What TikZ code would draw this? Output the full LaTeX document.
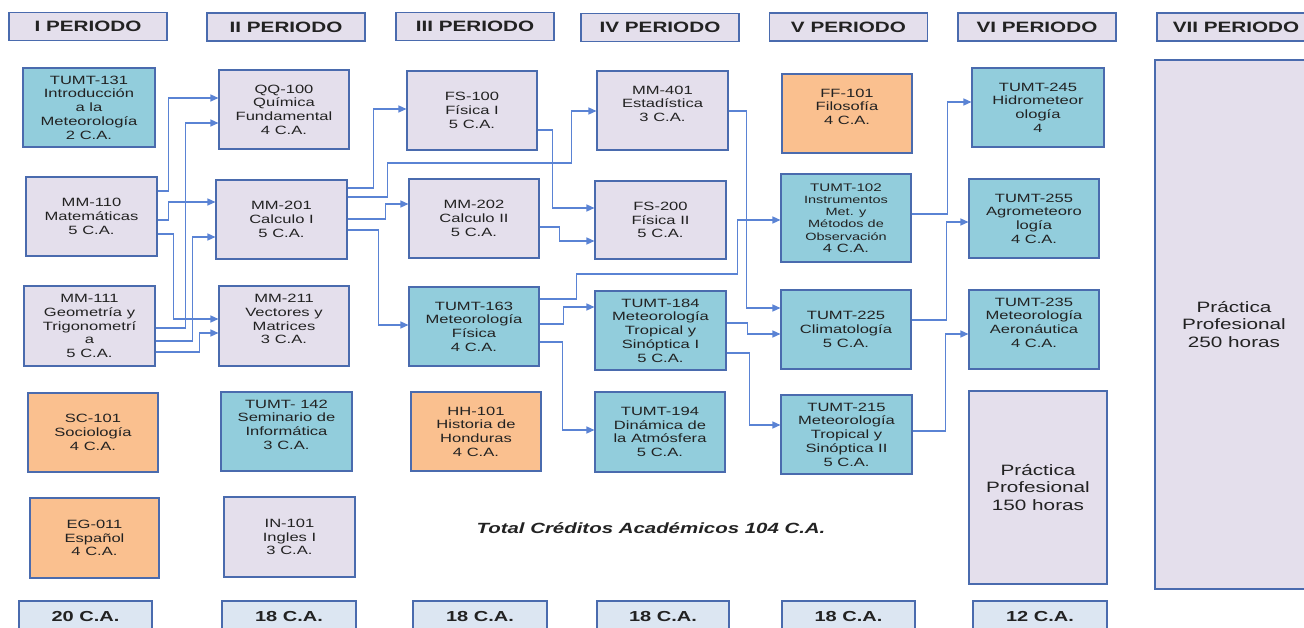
\documentclass[tikz,border=0pt]{standalone}
\usepackage{fontspec}
\setmainfont{Liberation Sans}[FakeStretch=1.38]
\usetikzlibrary{arrows.meta}
\definecolor{lav}{HTML}{E4DFEC}
\definecolor{cyanbox}{HTML}{92CDDC}
\definecolor{orangebox}{HTML}{FAC08F}
\definecolor{cabox}{HTML}{DCE6F2}
\definecolor{bcol}{HTML}{4A6BAE}
\definecolor{lcol}{HTML}{5A83D4}
\definecolor{tcol}{HTML}{222222}
\tikzset{
  sz/.style 2 args={minimum width=#1pt,minimum height=#2pt},
  course/.style={draw=bcol,line width=1.1pt,align=center,inner sep=0pt,text=tcol,font=\fontsize{12}{13.7}\selectfont},
  lavbox/.style={course,fill=lav},
  cybox/.style={course,fill=cyanbox},
  orbox/.style={course,fill=orangebox},
  head/.style={course,fill=lav,font=\bfseries\fontsize{15}{17}\selectfont,sz={158}{28}},
  catotal/.style={course,fill=cabox,font=\bfseries\fontsize{14.5}{17}\selectfont},
  bigtxt/.style={font=\fontsize{15}{17.5}\selectfont},
  conn/.style={draw=lcol,line width=1.3pt,-{Triangle[length=8pt,width=7pt]}},
}
\begin{document}
\begin{tikzpicture}[x=1pt,y=-1pt]
\useasboundingbox (0,0) rectangle (1304,628);
\clip (0,0) rectangle (1304,628);
% headers
\node[head] (h1) at (88,26.5) {I PERIODO};
\node[head] (h2) at (286,27) {II PERIODO};
\node[head] (h3) at (475,26.5) {III PERIODO};
\node[head] (h4) at (660,27.5) {IV PERIODO};
\node[head] (h5) at (848.5,27) {V PERIODO};
\node[head] (h6) at (1037,27) {VI PERIODO};
\node[head] (h7) at (1236,27) {VII PERIODO};
% column I
\node[cybox,sz={132}{79}] (t131) at (89,107.5) {TUMT-131\\Introducción\\a la\\Meteorología\\2 C.A.};
\node[lavbox,sz={131}{79}] (mm110) at (91.5,216.5) {MM-110\\Matemáticas\\5 C.A.};
\node[lavbox,sz={131}{80}] (mm111) at (89.5,326) {MM-111\\Geometría y\\Trigonometrí\\a\\5 C.A.};
\node[orbox,sz={130}{79}] (sc101) at (93,432.5) {SC-101\\Sociología\\4 C.A.};
\node[orbox,sz={129}{80}] (eg011) at (94.5,538) {EG-011\\Español\\4 C.A.};
% column II
\node[lavbox,sz={130}{79}] (qq100) at (284,109.5) {QQ-100\\Química\\Fundamental\\4 C.A.};
\node[lavbox,sz={131}{79}] (mm201) at (281.5,219.5) {MM-201\\Calculo I\\5 C.A.};
\node[lavbox,sz={130}{80}] (mm211) at (284,326) {MM-211\\Vectores y\\Matrices\\3 C.A.\\\mbox{}};
\node[cybox,sz={131}{79}] (t142) at (286.5,431.5) {TUMT- 142\\Seminario de\\Informática\\3 C.A.\\\mbox{}};
\node[lavbox,sz={131}{80}] (in101) at (289.5,537) {IN-101\\Ingles I\\3 C.A.};
% column III
\node[lavbox,sz={130}{79}] (fs100) at (472,110.5) {FS-100\\Física I\\5 C.A.};
\node[lavbox,sz={130}{79}] (mm202) at (474,218.5) {MM-202\\Calculo II\\5 C.A.};
\node[cybox,sz={130}{79}] (t163) at (474,326.5) {TUMT-163\\Meteorología\\Física\\4 C.A.};
\node[orbox,sz={130}{79}] (hh101) at (476,431.5) {HH-101\\Historia de\\Honduras\\4 C.A.};
% column IV
\node[lavbox,sz={131}{79}] (mm401) at (662.5,110.5) {MM-401\\Estadística\\3 C.A.\\\mbox{}};
\node[lavbox,sz={131}{78}] (fs200) at (660.5,220) {FS-200\\Física II\\5 C.A.};
\node[cybox,sz={131}{79}] (t184) at (660.5,330.5) {TUMT-184\\Meteorología\\Tropical y\\Sinóptica I\\5 C.A.};
\node[cybox,sz={130}{80}] (t194) at (660,432) {TUMT-194\\Dinámica de\\la Atmósfera\\5 C.A.};
% column V
\node[orbox,sz={130}{79}] (ff101) at (847,113.5) {FF-101\\Filosofía\\4 C.A.\\\mbox{}};
\node[cybox,sz={130}{88},font=\fontsize{10.5}{12.3}\selectfont] (t102) at (846,218) {{\fontsize{11}{12.3}\selectfont TUMT-102}\\Instrumentos\\Met. y\\Métodos de\\Observación\\{\fontsize{12}{12.3}\selectfont 4 C.A.}};
\node[cybox,sz={130}{79}] (t225) at (846,329.5) {TUMT-225\\Climatología\\5 C.A.};
\node[cybox,sz={131}{79}] (t215) at (846.5,434.5) {TUMT-215\\Meteorología\\Tropical y\\Sinóptica II\\5 C.A.};
% column VI
\node[cybox,sz={132}{79}] (t245) at (1038,107.5) {TUMT-245\\Hidrometeor\\ología\\4};
\node[cybox,sz={130}{79}] (t255) at (1034,218.5) {TUMT-255\\Agrometeoro\\logía\\4 C.A.};
\node[cybox,sz={130}{79}] (t235) at (1034,329.5) {TUMT-235\\Meteorología\\Aeronáutica\\4 C.A.\\\mbox{}};
\node[lavbox,bigtxt,sz={138}{193}] (pp150) at (1038,487.5) {Práctica\\Profesional\\150 horas};
% column VII
\node[lavbox,bigtxt,sz={158}{529}] (pp250) at (1234,324.5) {Práctica\\Profesional\\250 horas};
% totals
\node[catotal,sz={133}{32}] (ca1) at (85.5,617) {20 C.A.};
\node[catotal,sz={134}{32}] (ca2) at (289,617) {18 C.A.};
\node[catotal,sz={134}{32}] (ca3) at (480,617) {18 C.A.};
\node[catotal,sz={132}{32}] (ca4) at (663,617) {18 C.A.};
\node[catotal,sz={133}{32}] (ca5) at (848.5,617) {18 C.A.};
\node[catotal,sz={134}{32}] (ca6) at (1040,617) {12 C.A.};
\node[text=tcol,font=\bfseries\itshape\fontsize{14.8}{17}\selectfont] (total) at (651,528) {Total Créditos Académicos 104 C.A.};
% connectors column I -> II
\draw[conn] ([yshift=25.5pt]mm110.east) -- ++(11,0) |- ([yshift=11.5pt]qq100.west);
\draw[conn] ([yshift=-3.5pt]mm110.east) -- ++(11,0) |- ([yshift=17.5pt]mm201.west);
\draw[conn] ([yshift=-17.5pt]mm110.east) -- ++(16,0) |- ([yshift=7pt]mm211.west);
\draw[conn] ([yshift=-2pt]mm111.east) -- ++(30,0) |- ([yshift=-13.5pt]qq100.west);
\draw[conn] ([yshift=-15pt]mm111.east) -- ++(37,0) |- ([yshift=-17.5pt]mm201.west);
\draw[conn] ([yshift=-26pt]mm111.east) -- ++(44,0) |- ([yshift=-7pt]mm211.west);
% column II -> III/IV
\draw[conn] ([yshift=31.5pt]mm201.east) -- ++(26,0) |- ([yshift=1.5pt]fs100.west);
\draw[conn] ([yshift=22.5pt]mm201.east) -- ++(40,0) -- ++(0,-34) -- ++(184,0) |- ([yshift=-0.5pt]mm401.west);
\draw[conn] ([yshift=0.5pt]mm201.east) -- ++(38,0) |- ([yshift=14.5pt]mm202.west);
\draw[conn] ([yshift=-10.5pt]mm201.east) -- ++(31,0) |- ([yshift=1.5pt]t163.west);
% column III -> IV/V
\draw[conn] ([yshift=-19.5pt]fs100.east) -- ++(15,0) |- ([yshift=12pt]fs200.west);
\draw[conn] ([yshift=-8.5pt]mm202.east) -- ++(20,0) |- ([yshift=-21pt]fs200.west);
\draw[conn] ([yshift=27.5pt]t163.east) -- ++(37,0) -- ++(0,-25) -- ++(161,0) |- ([yshift=-2pt]t102.west);
\draw[conn] ([yshift=2.5pt]t163.east) -- ++(24,0) |- ([yshift=23.5pt]t184.west);
\draw[conn] ([yshift=-15.5pt]t163.east) -- ++(23,0) |- ([yshift=2pt]t194.west);
% column IV -> V
\draw[conn] ([yshift=-0.5pt]mm401.east) -- ++(18,0) |- ([yshift=21.5pt]t225.west);
\draw[conn] ([yshift=7.5pt]t184.east) -- ++(21,0) |- ([yshift=-4.5pt]t225.west);
\draw[conn] ([yshift=-22.5pt]t184.east) -- ++(23,0) |- ([yshift=9.5pt]t215.west);
% column V -> VI
\draw[conn] ([yshift=4pt]t102.east) -- ++(36,0) |- ([yshift=5.5pt]t245.west);
\draw[conn] ([yshift=9.5pt]t225.east) -- ++(35,0) |- ([yshift=-3.5pt]t255.west);
\draw[conn] ([yshift=3.5pt]t215.east) -- ++(33,0) |- ([yshift=-4.5pt]t235.west);
\end{tikzpicture}
\end{document}
